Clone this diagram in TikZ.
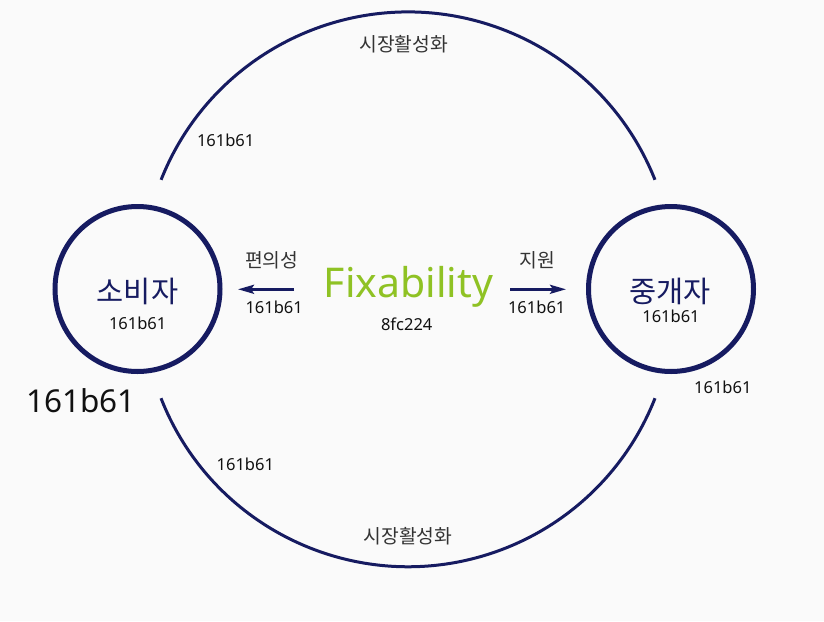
\documentclass[tikz,border=0pt]{standalone}
\usepackage{fontspec}
\setmainfont{Noto Sans}
\newfontfamily\krfont{Noto Sans CJK KR}
\usetikzlibrary{arrows.meta}
\definecolor{navy}{HTML}{161B61}
\definecolor{fixgreen}{HTML}{8FC224}
\definecolor{bgcol}{HTML}{FAFAFA}
\definecolor{krgray}{HTML}{333333}
\definecolor{codeblack}{HTML}{111111}

\begin{document}
\begin{tikzpicture}[x=1pt,y=1pt,
  party/.style={circle,draw=navy,line width=5pt,minimum size=165pt,inner sep=0pt},
  loopline/.style={draw=navy,line width=3pt},
  flow/.style={draw=navy,line width=2.8pt,-{Stealth[length=16pt,width=9pt,inset=3pt]}},
  partyname/.style={inner sep=0pt,text=navy,font=\krfont\fontsize{29.5}{29.5}\selectfont},
  krlabel/.style={inner sep=0pt,text=krgray,font=\krfont\fontsize{19.3}{19.3}\selectfont},
  code/.style={inner sep=0pt,text=codeblack,font=\fontsize{16.5}{16.5}\selectfont}
]
\fill[bgcol] (0,0) rectangle (824,-621);
\useasboundingbox (0,0) rectangle (824,-621);

\node [party] (consumer) at (137.5,-289) {};
\node [party] (broker) at (671,-289) {};

\node [partyname] (consumername) at (137.5,-291.7) {소비자};
\node [code] (consumercode) at (137.7,-323.3) {161b61};
\node [partyname] (brokername) at (670.3,-291.5) {중개자};
\node [code] (brokercode) at (671,-316.3) {161b61};
\node [code] (brokerout) at (722.8,-387.5) {161b61};
\node [inner sep=0pt,text=codeblack,font=\fontsize{31.5}{31.5}\selectfont] (bigcode) at (80.8,-400.3) {161b61};

\node [inner sep=0pt,anchor=base,text=fixgreen,font=\fontsize{41}{41}\selectfont] (fix) at (408.5,-297.3) {Fixability};
\node [code] (fixcode) at (406.7,-324.5) {8fc224};

\coordinate (convfrom) at (294,-289.3);
\coordinate (convto) at (238,-289.3);
\draw [flow] (convfrom) -- (convto);
\node [krlabel] (convlabel) at (271.7,-260) {편의성};
\node [code] (convcode) at (274.2,-307.8) {161b61};

\coordinate (suppfrom) at (510,-289.3);
\coordinate (suppto) at (566,-289.3);
\draw [flow] (suppfrom) -- (suppto);
\node [krlabel] (supplabel) at (537.5,-260) {지원};
\node [code] (suppcode) at (536.7,-307.8) {161b61};

\coordinate (topstart) at (161.1,-179.8);
\draw [loopline] (topstart) arc[start angle=158.4,end angle=21.6,radius=265.6pt];
\node [krlabel] (toplabel) at (403.8,-44) {시장활성화};
\node [code] (topcode) at (225.7,-140.5) {161b61};

\coordinate (botstart) at (161,-398.2);
\draw [loopline] (botstart) arc[start angle=201.4,end angle=338.6,radius=265.3pt];
\node [krlabel] (botlabel) at (408,-536) {시장활성화};
\node [code] (botcode) at (245.3,-464.7) {161b61};
\end{tikzpicture}
\end{document}
